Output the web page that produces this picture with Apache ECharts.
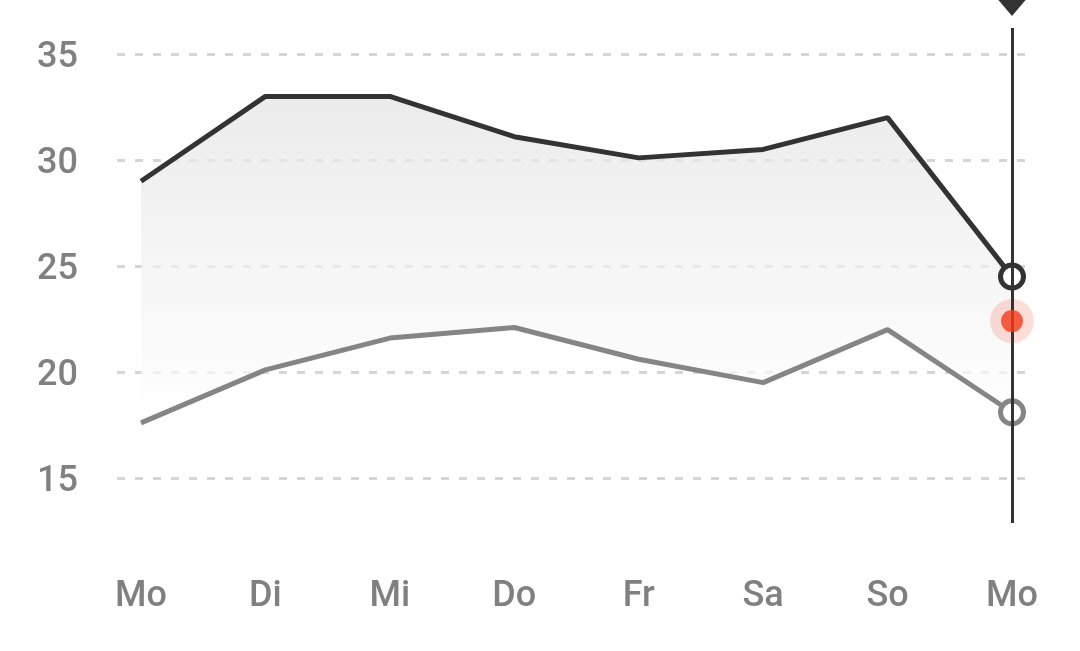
<!DOCTYPE html>
<html>
<head>
<meta charset="utf-8">
<script src="https://cdn.jsdelivr.net/npm/echarts@6/dist/echarts.min.js"></script>
<style>
html,body{margin:0;padding:0;background:#fff;}
#chart{width:1080px;height:651px;}
</style>
</head>
<body>
<div id="chart"></div>
<script>
const days = ['Mo', 'Di', 'Mi', 'Do', 'Fr', 'Sa', 'So', 'Mo'];
const high = [29, 33, 33, 31.1, 30.1, 30.5, 32, 24.5];
const low = [17.6, 20.1, 21.6, 22.1, 20.6, 19.5, 22, 18.1];
const current = [22.4];
const currentIndex = 7;
const yTicks = [15, 35, 5]; // min, max, step

// layout: tick area 54..478 px, data/cursor area 28..523 px
const pxPerUnit = (478 - 54) / (yTicks[1] - yTicks[0]);
const dataMin = yTicks[0] - (523 - 478) / pxPerUnit;
const dataMax = yTicks[1] + (54 - 28) / pxPerUnit;

const diff = high.map((h, i) => +(h - low[i]).toFixed(2));
const lastOnly = (size) => (v, p) => p.dataIndex === days.length - 1 ? size : 0;
const font = 'Roboto, "Noto Sans", sans-serif';

const chart = echarts.init(document.getElementById('chart'), null, {renderer: 'canvas'});
chart.setOption({
  animation: false,
  backgroundColor: '#ffffff',
  grid: [
    {left: 117, right: 55, top: 54, bottom: 173},
    {left: 141, right: 68, top: 28, bottom: 128}
  ],
  xAxis: [
    {type: 'category', gridIndex: 0, data: days, show: false},
    {
      type: 'category', gridIndex: 1, data: days, boundaryGap: false,
      axisLine: {show: false}, axisTick: {show: false}, splitLine: {show: false},
      axisLabel: {color: '#808080', fontSize: 36, fontWeight: 500, fontFamily: font, margin: 56}
    }
  ],
  yAxis: [
    {
      type: 'value', gridIndex: 0, min: yTicks[0], max: yTicks[1], interval: yTicks[2],
      axisLine: {show: false}, axisTick: {show: false},
      axisLabel: {
        margin: 39, formatter: '{v|{value}}',
        rich: {v: {color: '#808080', fontSize: 36, fontWeight: 500, fontFamily: font, padding: [8, 0, 0, 0]}}
      },
      splitLine: {lineStyle: {color: '#d6d6d6', width: 3, type: [8, 10]}}
    },
    {
      type: 'value', gridIndex: 1, min: dataMin, max: dataMax,
      show: false, splitLine: {show: false}
    }
  ],
  series: [
    {
      name: 'base', type: 'line', xAxisIndex: 1, yAxisIndex: 1, stack: 'band',
      data: low, symbol: 'none', lineStyle: {opacity: 0}, z: 1, silent: true,
      markLine: {
        silent: true, symbol: ['none', 'none'], label: {show: false},
        lineStyle: {color: '#333333', width: 3, type: 'solid'},
        data: [{xAxis: currentIndex}]
      },
      markPoint: {
        silent: true, symbol: 'triangle', symbolRotate: 180, symbolSize: [34, 20],
        symbolOffset: [0, -22], itemStyle: {color: '#333333'}, label: {show: false},
        data: [{coord: [currentIndex, dataMax]}]
      }
    },
    {
      name: 'band', type: 'line', xAxisIndex: 1, yAxisIndex: 1, stack: 'band',
      data: diff, symbol: 'none', lineStyle: {opacity: 0}, z: 1, silent: true,
      areaStyle: {
        color: new echarts.graphic.LinearGradient(0, 0, 0, 1, [
          {offset: 0, color: '#e3e3e3'},
          {offset: 1, color: '#ffffff'}
        ])
      }
    },
    {
      name: 'high', type: 'line', xAxisIndex: 1, yAxisIndex: 1, data: high, z: 3,
      lineStyle: {color: '#333333', width: 5},
      symbol: 'circle', symbolSize: lastOnly(23), showAllSymbol: true,
      itemStyle: {color: '#ffffff', borderColor: '#333333', borderWidth: 5}
    },
    {
      name: 'low', type: 'line', xAxisIndex: 1, yAxisIndex: 1, data: low, z: 3,
      lineStyle: {color: '#858585', width: 5},
      symbol: 'circle', symbolSize: lastOnly(23), showAllSymbol: true,
      itemStyle: {color: '#ffffff', borderColor: '#858585', borderWidth: 5}
    },
    {
      name: 'halo', type: 'scatter', xAxisIndex: 1, yAxisIndex: 1, z: 4,
      data: current.map(v => [currentIndex, v]), symbolSize: 44,
      itemStyle: {color: 'rgba(242,60,28,0.22)'}
    },
    {
      name: 'current', type: 'scatter', xAxisIndex: 1, yAxisIndex: 1, z: 5,
      data: current.map(v => [currentIndex, v]), symbolSize: 22,
      itemStyle: {color: '#f43c1c'}
    }
  ]
});
</script>
</body>
</html>
